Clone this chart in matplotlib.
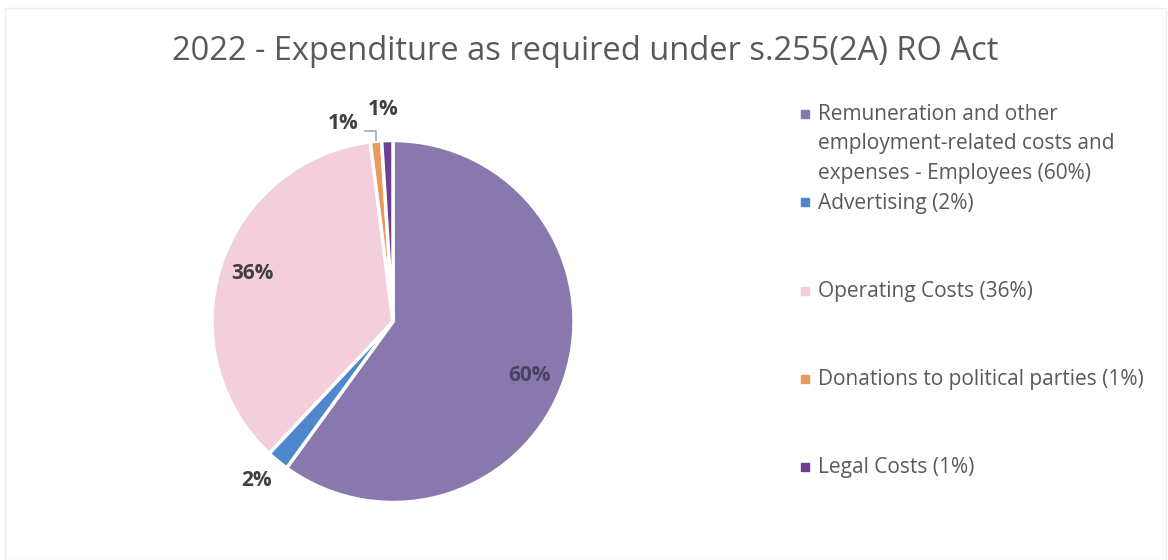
import matplotlib
matplotlib.use('Agg')
import matplotlib.pyplot as plt
import numpy as np
from matplotlib.patches import Rectangle

plt.rcParams['font.family'] = ['Open Sans', 'DejaVu Sans']

# ── Data ────────────────────────────────────────────────────────────────────
title = '2022 - Expenditure as required under s.255(2A) RO Act'
categories = [
    'Remuneration and other\nemployment-related costs and\nexpenses - Employees',
    'Advertising',
    'Operating Costs',
    'Donations to political parties',
    'Legal Costs',
]
shares = [60, 2, 36, 1, 1]
colors = ['#8878ae', '#4f87cc', '#f2cfdb', '#e9995a', '#6b3f94']

# label placement: angle nudge (deg) from slice middle, radial distance
label_nudge = [-3.5, -1.0, -0.8, 8.7, 0.9]
label_dist = [0.81, 1.16, 0.82, 1.13, 1.17]

# legend row positions (px from top)
legend_rows = [115, 203, 292, 380, 468]

# ── Figure ──────────────────────────────────────────────────────────────────
W, H = 1168, 560
fig = plt.figure(figsize=(W / 100, H / 100), dpi=100)

# faint frame of the chart area
fig.add_artist(Rectangle((5 / W, 0), 1161 / W, 1 - 8 / H, transform=fig.transFigure,
                         fill=False, ec='#eeeeee', lw=1))

cx, cy, R = 393, 321.5, 181
ax = fig.add_axes([(cx - R) / W, (H - cy - R) / H, 2 * R / W, 2 * R / H])
wedges, _ = ax.pie(shares, colors=colors, startangle=90, counterclock=False,
                   radius=1, wedgeprops=dict(edgecolor='white', linewidth=2.5))
ax.set_xlim(-1, 1)
ax.set_ylim(-1, 1)
ax.axis('off')

for i, (w, s) in enumerate(zip(wedges, shares)):
    mid = 0.5 * (w.theta1 + w.theta2)
    ang = np.radians(mid + label_nudge[i])
    lx, ly = label_dist[i] * np.cos(ang), label_dist[i] * np.sin(ang)
    col = '#4a4262' if label_dist[i] < 1 and s > 50 else '#404040'
    ax.text(lx, ly, f'{s}%', ha='center', va='center', fontsize=15,
            fontweight='bold', color=col, clip_on=False)
    # leader line for labels pushed away from their slice
    if abs(label_nudge[i]) > 5:
        mx, my = np.cos(np.radians(mid)) * 1.01, np.sin(np.radians(mid)) * 1.01
        ax.plot([lx + 0.12, mx, mx], [1.055, 1.055, my], color='#a6a6a6',
                lw=1.2, clip_on=False)

# ── Legend (pixel coordinates overlay) ─────────────────────────────────────
lax = fig.add_axes([0, 0, 1, 1])
lax.set_xlim(0, W)
lax.set_ylim(H, 0)
lax.axis('off')
for cat, s, c, y in zip(categories, shares, colors, legend_rows):
    lax.scatter([805], [y - 1], marker='s', s=28, color=c)
    lines = f'{cat} ({s}%)'.split('\n')
    for k, line in enumerate(lines):
        lax.text(818, y + 29 * k, line, ha='left', va='center', fontsize=15,
                 color='#595959')

fig.text(585 / W, 1 - 51 / H, title, ha='center', va='center', fontsize=23.5,
         color='#595959')

fig.savefig('out.png', dpi=100)
